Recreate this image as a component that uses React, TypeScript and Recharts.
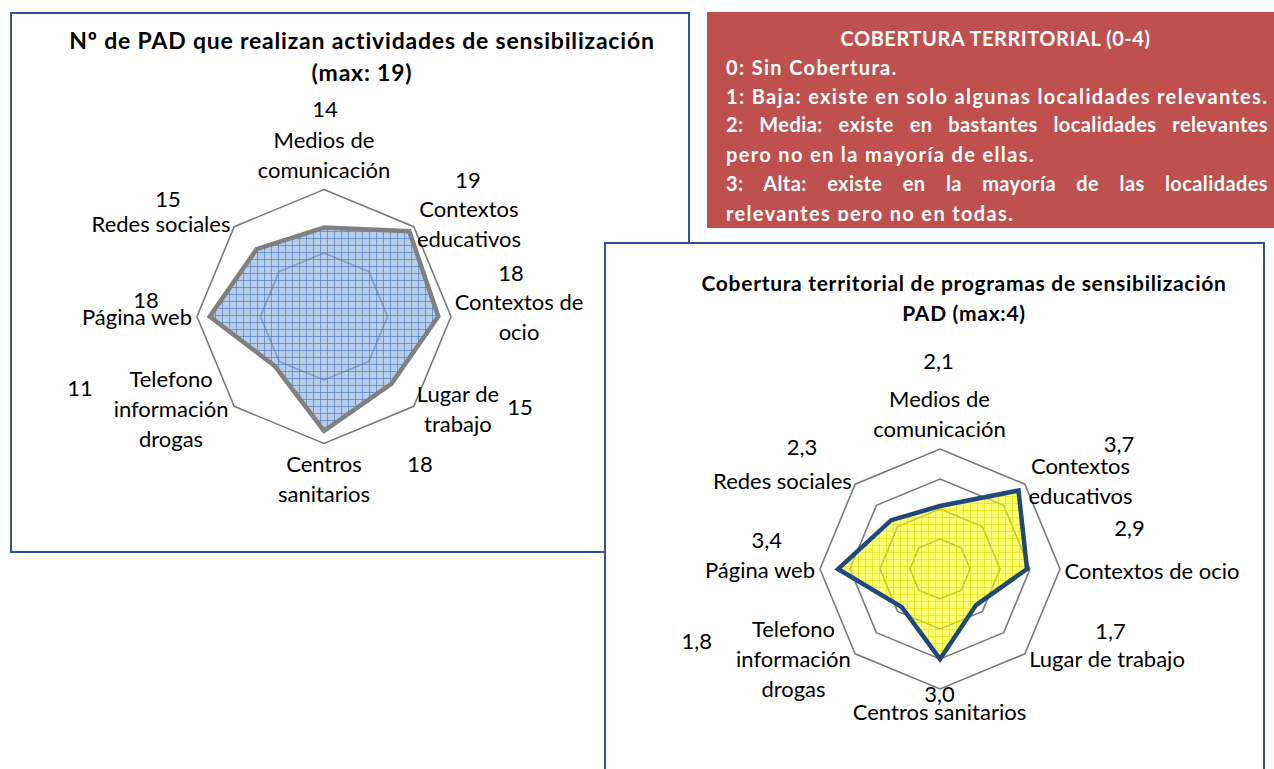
import React from 'react';
import { RadarChart, Radar, PolarGrid, PolarAngleAxis, PolarRadiusAxis } from 'recharts';

// ---------- data ----------
const CATEGORIES = [
  'Medios de comunicación',
  'Contextos educativos',
  'Contextos de ocio',
  'Lugar de trabajo',
  'Centros sanitarios',
  'Telefono información drogas',
  'Página web',
  'Redes sociales',
];
const PAD_COUNTS = [14, 19, 18, 15, 18, 11, 18, 15];
const COVERAGE = [2.1, 3.7, 2.9, 1.7, 3.0, 1.8, 3.4, 2.3];

const LABEL_LINES_1 = [
  ['Medios de', 'comunicación'],
  ['Contextos', 'educativos'],
  ['Contextos de', 'ocio'],
  ['Lugar de', 'trabajo'],
  ['Centros', 'sanitarios'],
  ['Telefono', 'información', 'drogas'],
  ['Página web'],
  ['Redes sociales'],
];
const LABEL_LINES_2 = [
  ['Medios de', 'comunicación'],
  ['Contextos', 'educativos'],
  ['Contextos de ocio'],
  ['Lugar de trabajo'],
  ['Centros sanitarios'],
  ['Telefono', 'información', 'drogas'],
  ['Página web'],
  ['Redes sociales'],
];

const TITLE_1 = ['Nº de PAD que realizan actividades de sensibilización', '(max: 19)'];
const TITLE_2 = ['Cobertura territorial de programas de sensibilización', 'PAD (max:4)'];
const LEGEND_TITLE = 'COBERTURA TERRITORIAL (0-4)';
const LEGEND_LINES = [
  '0: Sin Cobertura.',
  '1: Baja: existe en solo algunas localidades relevantes.',
  '2: Media: existe en  bastantes localidades relevantes',
  'pero no en la mayoría de ellas.',
  '3: Alta: existe en la mayoría de las  localidades',
  'relevantes pero no en todas.',
];
const LEGEND_JUSTIFY = [false, false, true, false, true, false];

// ---------- layout / style (not data) ----------
const FONT = 'Lato, "Open Sans", sans-serif';
// offsets of label block / value text relative to the angle-axis tick point
const LABEL_OFF_1 = [
  [0, -27.5], [49.5, 2.5], [60, -0.5], [38.5, -3], [0, 26.5], [-57.5, -3], [-52, -0.5], [-67.5, 2],
];
const NUM_OFF_1 = [
  [1, -73.5], [48.5, -42], [52, -44.5], [100.5, -5], [96, 11.5], [-148.5, -24], [-43, -17.5], [-60.5, -23],
];
const LABEL_OFF_2 = [
  [-0.5, -28], [50, 2.5], [84, 1], [76.5, -0.7], [-0.5, 14], [-56, -1], [-52, 0.4], [-67, 2],
];
const NUM_OFF_2 = [
  [-1.4, -81], [88.5, -34.7], [61.4, -42], [80, -29.5], [-0.5, -4], [-152.8, -19.5], [-45.3, -29.3], [-47.5, -32],
];
const LEGEND_Y = [67, 96, 124, 154, 183, 213];

const padData = CATEGORIES.map((c, i) => ({ category: c, value: PAD_COUNTS[i] }));
const coverageData = CATEGORIES.map((c, i) => ({ category: c, value: COVERAGE[i] }));

const makeTick =
  (lines: string[][], values: number[], fmt: (v: number) => string, labelOff: number[][], numOff: number[][]) =>
  (props: any) => {
    const { x, y, payload } = props;
    let i = CATEGORIES.indexOf(payload?.value);
    if (i < 0) i = payload?.index ?? 0;
    const ls = lines[i];
    const lh = 30;
    const [ldx, ldy] = labelOff[i];
    const [ndx, ndy] = numOff[i];
    return (
      <g>
        {ls.map((ln, k) => (
          <text
            key={k}
            x={x + ldx}
            y={y + ldy + (k - (ls.length - 1) / 2) * lh}
            textAnchor="middle"
            dominantBaseline="central"
            fontFamily={FONT}
            fontSize={22}
            fill="#000"
          >
            {ln}
          </text>
        ))}
        <text
          x={x + ndx}
          y={y + ndy}
          textAnchor="middle"
          dominantBaseline="central"
          fontFamily={FONT}
          fontSize={22}
          fill="#000"
        >
          {fmt(values[i])}
        </text>
      </g>
    );
  };

const fmtInt = (v: number) => String(v);
const fmtDec = (v: number) => v.toFixed(1).replace('.', ',');

const boxBorder = '2px solid #2E5591';

export default function App() {
  return (
    <div style={{ position: 'absolute', left: 0, top: 0, width: 1274, height: 769, overflow: 'hidden', background: '#fff', fontFamily: FONT }}>
      <svg width={0} height={0} style={{ position: 'absolute' }}>
        <defs>
          <pattern id="pat1" patternUnits="userSpaceOnUse" width={7} height={7}>
            <rect x={0} y={0} width={7} height={7} fill="#8AAEDC" fillOpacity={0.62} />
            <line x1={0} y1={0.5} x2={7} y2={0.5} stroke="#4F7FC0" strokeOpacity={0.7} strokeWidth={1} />
            <line x1={0.5} y1={0} x2={0.5} y2={7} stroke="#4F7FC0" strokeOpacity={0.7} strokeWidth={1} />
          </pattern>
          <pattern id="pat2" patternUnits="userSpaceOnUse" width={7} height={7}>
            <rect x={0} y={0} width={7} height={7} fill="#FFFF00" fillOpacity={0.55} />
            <line x1={0} y1={0.5} x2={7} y2={0.5} stroke="#E0E000" strokeOpacity={0.6} strokeWidth={1} />
            <line x1={0.5} y1={0} x2={0.5} y2={7} stroke="#E0E000" strokeOpacity={0.6} strokeWidth={1} />
          </pattern>
        </defs>
      </svg>

      {/* Chart 1 */}
      <div style={{ position: 'absolute', left: 10, top: 12, width: 676, height: 537, border: boxBorder, background: '#fff' }}>
        <RadarChart
          width={676}
          height={537}
          data={padData}
          cx={312}
          cy={302.5}
          outerRadius={127}
          margin={{ top: 0, right: 0, bottom: 0, left: 0 }}
        >
          <PolarGrid gridType="polygon" radialLines={false} stroke="#7A7A7A" strokeWidth={1.6} />
          <PolarRadiusAxis domain={[0, 20]} tickCount={3} tick={false} axisLine={false} />
          <PolarAngleAxis
            dataKey="category"
            tickLine={false}
            axisLine={false}
            tick={makeTick(LABEL_LINES_1, PAD_COUNTS, fmtInt, LABEL_OFF_1, NUM_OFF_1)}
          />
          <Radar dataKey="value" stroke="#808080" strokeWidth={4.5} fill="url(#pat1)" fillOpacity={1} isAnimationActive={false} />
        </RadarChart>
        {TITLE_1.map((t, k) => (
          <div
            key={k}
            style={{
              position: 'absolute',
              left: 362 - 12 - 400,
              width: 800,
              top: 40 - 14 - 15 + k * 32,
              height: 30,
              lineHeight: '30px',
              textAlign: 'center',
              fontWeight: 700,
              fontSize: 23,
              letterSpacing: 0.8,
              color: '#000',
              whiteSpace: 'nowrap',
            }}
          >
            {t}
          </div>
        ))}
      </div>

      {/* Legend box */}
      <div style={{ position: 'absolute', left: 707, top: 12, width: 567, height: 216, background: '#C0504D', color: '#fff', fontWeight: 700, fontSize: 20 }}>
        <div style={{ position: 'absolute', left: 0, top: 0, width: 567, height: 209, overflow: 'hidden' }}>
          <div style={{ position: 'absolute', left: 0, width: 577, top: 38 - 12 - 14, height: 28, lineHeight: '28px', textAlign: 'center', whiteSpace: 'nowrap', letterSpacing: 0.55 }}>
            {LEGEND_TITLE}
          </div>
          {LEGEND_LINES.map((t, k) => (
            <div
              key={k}
              style={{
                position: 'absolute',
                left: 19,
                width: 542,
                top: LEGEND_Y[k] - 12 - 14,
                height: 28,
                lineHeight: '28px',
                letterSpacing: LEGEND_JUSTIFY[k] ? 0.4 : 1.35,
                whiteSpace: LEGEND_JUSTIFY[k] ? 'normal' : 'nowrap',
                textAlign: LEGEND_JUSTIFY[k] ? 'justify' : 'left',
                textAlignLast: LEGEND_JUSTIFY[k] ? 'justify' : 'auto',
              } as React.CSSProperties}
            >
              {t}
            </div>
          ))}
        </div>
      </div>

      {/* Chart 2 */}
      <div style={{ position: 'absolute', left: 604, top: 242, width: 657, height: 540, border: boxBorder, background: '#fff' }}>
        <RadarChart
          width={657}
          height={540}
          data={coverageData}
          cx={940 - 606}
          cy={569 - 244}
          outerRadius={120}
          margin={{ top: 0, right: 0, bottom: 0, left: 0 }}
        >
          <PolarGrid gridType="polygon" radialLines={false} stroke="#7A7A7A" strokeWidth={1.6} />
          <PolarRadiusAxis domain={[0, 4]} tickCount={5} tick={false} axisLine={false} />
          <PolarAngleAxis
            dataKey="category"
            tickLine={false}
            axisLine={false}
            tick={makeTick(LABEL_LINES_2, COVERAGE, fmtDec, LABEL_OFF_2, NUM_OFF_2)}
          />
          <Radar dataKey="value" stroke="#1F497D" strokeWidth={4.5} fill="url(#pat2)" fillOpacity={1} isAnimationActive={false} />
        </RadarChart>
        {TITLE_2.map((t, k) => (
          <div
            key={k}
            style={{
              position: 'absolute',
              left: 964 - 606 - 400,
              width: 800,
              top: 283 - 244 - 15 + k * 30,
              height: 30,
              lineHeight: '30px',
              textAlign: 'center',
              fontWeight: 700,
              fontSize: 21,
              letterSpacing: 0.7,
              color: '#000',
              whiteSpace: 'nowrap',
            }}
          >
            {t}
          </div>
        ))}
      </div>
    </div>
  );
}
